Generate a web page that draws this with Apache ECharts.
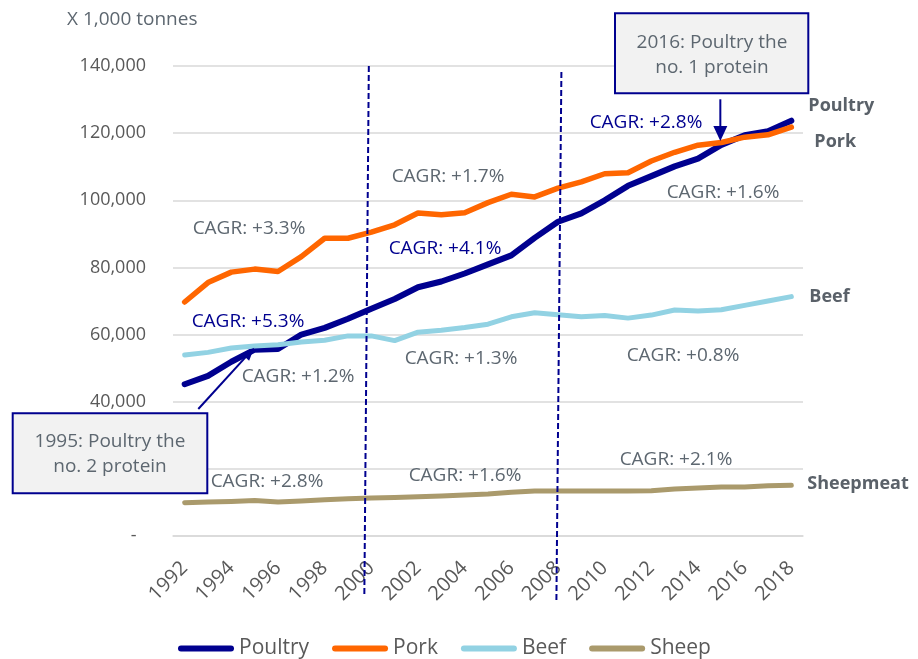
<!DOCTYPE html>
<html><head><meta charset="utf-8">
<script src="https://cdn.jsdelivr.net/npm/echarts@6/dist/echarts.min.js"></script>
<style>html,body{margin:0;padding:0;background:#fff}#c{width:918px;height:659px}</style>
</head><body><div id="c"></div>
<script>
// ---- data ----
const years = ['1992','1993','1994','1995','1996','1997','1998','1999','2000','2001','2002','2003','2004','2005','2006','2007','2008','2009','2010','2011','2012','2013','2014','2015','2016','2017','2018'];
const poultry = [45200,47700,51900,55500,55700,60000,62000,64700,67700,70600,74100,75800,78200,80900,83600,88800,93600,96100,100000,104300,107200,110100,112400,116500,119400,120600,123700];
const pork    = [69700,75500,78600,79500,78800,83200,88700,88700,90500,92700,96200,95700,96300,99300,101800,101000,103600,105500,107900,108200,111700,114300,116400,117200,118800,119500,121800];
const beef    = [53900,54700,56000,56600,57000,57800,58300,59600,59600,58200,60700,61300,62100,63100,65300,66500,65900,65300,65700,64900,65800,67300,67000,67400,68700,70000,71300];
const sheep   = [9900,10100,10300,10600,10100,10400,10800,11100,11300,11500,11700,11900,12200,12500,13000,13400,13400,13400,13400,13400,13500,14000,14300,14600,14600,15000,15100];
const yTicks  = [0,20000,40000,60000,80000,100000,120000,140000];
const seriesNames = ['Poultry','Pork','Beef','Sheep'];
const endNames = ['Poultry','Pork','Beef','Sheepmeat'];
const markerYears = ['2000','2008'];
const cagrTexts = ['CAGR: +3.3%','CAGR: +5.3%','CAGR: +1.2%','CAGR: +1.7%','CAGR: +4.1%','CAGR: +1.3%','CAGR: +2.8%','CAGR: +1.6%','CAGR: +0.8%','CAGR: +2.8%','CAGR: +1.6%','CAGR: +2.1%'];
const box1Text = '1995: Poultry the\nno. 2 protein';
const box2Text = '2016: Poultry the\nno. 1 protein';

// ---- layout / style ----
const FONT = '"Open Sans", "DejaVu Sans", sans-serif';
const NAVY = '#00008F';
const GRAYT = '#5d6770';
const AXT = '#595959';
const colors = [NAVY, '#FF6600', '#92D2E3', '#AA9A6C'];
const widths = [6, 5.5, 5, 5];
const endOffsets = [[9,-15],[15,15],[10,0],[8,-1]];
const cagrPos = [[249,229,0],[248,322,1],[298,377,0],[448,177,0],[445,249,1],[461,359,0],[646,123,1],[723,193,0],[683,356,0],[267,482,0],[465,476,0],[676,460,0]];

const dataSets = [poultry, pork, beef, sheep];
const chart = echarts.init(document.getElementById('c'), null, {renderer:'canvas'});

const series = seriesNames.map((n, i) => ({
  name: n, type: 'line', data: dataSets[i], symbol: 'none', showSymbol: false,
  lineStyle: {color: colors[i], width: widths[i], cap: 'round', join: 'round'},
  itemStyle: {color: colors[i]},
  emphasis: {disabled: true},
  endLabel: {show: true, formatter: endNames[i], offset: endOffsets[i], fontFamily: FONT, fontSize: 18, fontWeight: 'bold', color: '#5a6169'},
  z: 2 + i
}));

const option = {
  animation: false,
  backgroundColor: '#fff',
  title: {text: 'X 1,000 tonnes', left: 62, top: 5, textStyle: {fontFamily: FONT, fontSize: 19, fontWeight: 'normal', color: GRAYT}},
  grid: {left: 173, right: 115, top: 66, bottom: 123, containLabel: false},
  legend: {
    data: seriesNames, left: 173, top: 633, itemWidth: 56, itemHeight: 6, itemGap: 23,
    icon: 'path://M3,0H53A3,3,0,0,1,53,6H3A3,3,0,0,1,3,0Z',
    textStyle: {fontFamily: FONT, fontSize: 21, color: AXT}
  },
  xAxis: {
    type: 'category', data: years, boundaryGap: true,
    axisTick: {show: false},
    axisLine: {show: true, lineStyle: {color: '#d9d9d9', width: 1.5}},
    axisLabel: {interval: 1, rotate: 45, fontFamily: FONT, fontSize: 20, color: AXT, margin: 29}
  },
  yAxis: {
    type: 'value', min: yTicks[0], max: yTicks[yTicks.length-1], interval: yTicks[1]-yTicks[0],
    axisLine: {show: false}, axisTick: {show: false},
    splitLine: {lineStyle: {color: '#d9d9d9', width: 1.5}},
    axisLabel: {margin: 27, fontFamily: FONT, fontSize: 18, color: AXT,
      formatter: v => v === 0 ? '-  ' : v.toLocaleString('en-US')}
  },
  series: series
};
chart.setOption(option);

// ---- annotations positioned through the chart's scales ----
const toPx = (xi, y) => chart.convertToPixel({gridIndex: 0}, [xi, y]);
const g = [];
function arrow(x1, y1, x2, y2, head, headW, lw) {
  const dx = x2 - x1, dy = y2 - y1, L = Math.hypot(dx, dy), ux = dx / L, uy = dy / L;
  const bx = x2 - ux * head, by = y2 - uy * head;
  g.push({type: 'line', z: 120, shape: {x1: x1, y1: y1, x2: bx + ux, y2: by + uy}, style: {stroke: NAVY, lineWidth: lw}});
  g.push({type: 'polygon', z: 120, shape: {points: [[x2, y2], [bx - uy * headW / 2, by + ux * headW / 2], [bx + uy * headW / 2, by - ux * headW / 2]]}, style: {fill: NAVY}});
}
// dashed period markers
const m1 = toPx(years.indexOf(markerYears[0]), yTicks[yTicks.length-1]);
const m2 = toPx(years.indexOf(markerYears[1]), yTicks[yTicks.length-1]);
g.push({type: 'line', z: 90, shape: {x1: m1[0] - 2.5, y1: m1[1], x2: m1[0] - 7, y2: m1[1] + 530}, style: {stroke: NAVY, lineWidth: 2, lineDash: [6, 3]}});
g.push({type: 'line', z: 90, shape: {x1: m2[0] + 3.4, y1: m2[1] + 6, x2: m2[0] - 1.6, y2: m2[1] + 535}, style: {stroke: NAVY, lineWidth: 2, lineDash: [6, 3]}});

// CAGR labels
cagrTexts.forEach((t, i) => {
  const p = cagrPos[i];
  g.push({type: 'text', z: 100, style: {text: t, x: p[0], y: p[1], align: 'center', verticalAlign: 'middle', textAlign: 'center', textVerticalAlign: 'middle', fontFamily: FONT, fontSize: 19, fill: p[2] ? NAVY : GRAYT}});
});

// boxes
g.push({type: 'rect', z: 110, shape: {x: 12.7, y: 413.3, width: 194.6, height: 80}, style: {fill: '#F2F2F2', stroke: NAVY, lineWidth: 2}});
g.push({type: 'text', z: 111, style: {text: box1Text, x: 110, y: 454, align: 'center', verticalAlign: 'middle', textAlign: 'center', textVerticalAlign: 'middle', fontFamily: FONT, fontSize: 19, lineHeight: 25, fill: GRAYT}});
g.push({type: 'rect', z: 110, shape: {x: 615, y: 13.3, width: 193.3, height: 80}, style: {fill: '#F2F2F2', stroke: NAVY, lineWidth: 2}});
g.push({type: 'text', z: 111, style: {text: box2Text, x: 712, y: 55, align: 'center', verticalAlign: 'middle', textAlign: 'center', textVerticalAlign: 'middle', fontFamily: FONT, fontSize: 19, lineHeight: 25, fill: GRAYT}});

// arrows pointing at poultry data points
const i95 = years.indexOf('1995'), i15 = years.indexOf('2015');
const a1 = toPx(i95, poultry[i95]);
arrow(198.3, 409, a1[0] - 0.5, a1[1] - 2, 13, 10, 2);
const a2 = toPx(i15, poultry[i15]);
arrow(a2[0] - 1, 99.3, a2[0] - 1, a2[1] - 4, 15, 14, 2);

chart.setOption({graphic: {elements: g}});
</script>
</body></html>
